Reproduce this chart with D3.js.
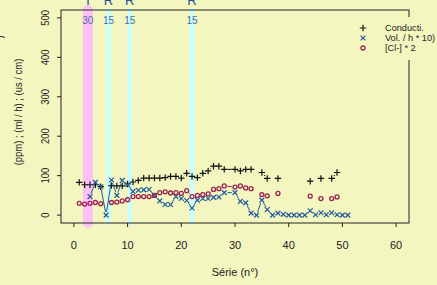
<!DOCTYPE html>
<html>
<head>
<meta charset="utf-8">
<script src="https://cdn.jsdelivr.net/npm/d3@7"></script>
<style>
  html, body { margin: 0; padding: 0; background: #f4f6c0; }
  svg { display: block; font-family: "Liberation Sans", Arial, sans-serif; }
</style>
</head>
<body>
<div id="chart"></div>
<script>
// série numbers (29 is absent from the record)
const serie = [1, 2, 3, 4, 5, 6, 7, 8, 9, 10, 11, 12, 13, 14, 15, 16, 17, 18, 19, 20,
  21, 22, 23, 24, 25, 26, 27, 28, 30, 31, 32, 33, 34, 35, 36, 37, 38, 39, 40, 41,
  42, 43, 44, 45, 46, 47, 48, 49, 50, 51];

const conduct = [83, 77, 77, 77, 72, null, 75, 74, 74, 79, 84, 88, 94, 94, 94, 94, 95, 98, 98, 94,
  106, 98, 95, 106, 112, 124, 124, 116, 116, 112, 116, 116, null, 108, 93, null, 93, null, null, null,
  null, null, 86, null, 93, null, 93, 108, null, null];

const volume = [null, null, 47, 83, 72, 0, 89, 50, 88, 77, 60, 63, 64, 65, 50, 36, 27, 27, 47, 42,
  37, 18, 38, 42, 42, 45, 46, 57, 57, 35, 31, 5, 0, 38, 14, 0, 5, 2, 0, 0,
  0, 0, 11, 1, 6, 1, 6, 1, 0, 0];

const chlorure = [30, 28, 30, 32, 29, null, 32, 33, 36, 39, 47, 47, 47, 47, 50, 57, 59, 56, 57, 55,
  62, 47, 50, 52, 54, 65, 67, 74, 71, 74, 69, 67, null, 52, 49, null, 55, null, null, null,
  null, null, 48, null, 42, null, 42, 46, null, null];

// event markers drawn as vertical bands
const events = [
  { x: 2.6,  code: 'T', dose: '30', kind: 'T' },
  { x: 6.45, code: 'R', dose: '15', kind: 'R' },
  { x: 10.4, code: 'R', dose: '15', kind: 'R' },
  { x: 22.0, code: 'R', dose: '15', kind: 'R' },
];

const xTicks = [0, 10, 20, 30, 40, 50, 60];
const yTicks = [0, 100, 200, 300, 400, 500];
const legendLabels = ['Conducti.', 'Vol. / h * 10)', '[Cl-] * 2'];

const W = 437, H = 285;
const BG = '#f4f6c0';
const INK = '#222';
const BLUE = '#1f5a9a';
const RED = '#9c1f50';
const SQUEEZE = 0.86; // vertical text comes out shorter than horizontal text

const svg = d3.select('#chart').append('svg').attr('width', W).attr('height', H);
svg.append('rect').attr('width', W).attr('height', H).attr('fill', BG);

const x = d3.scaleLinear().domain([-2.4, 62.4]).range([61, 409]);
const y = d3.scaleLinear().domain([-20, 520]).range([223, 10]);

// bands
const bandStyle = { T: { color: '#ffc0f6', width: 10 }, R: { color: '#c8ffff', width: 4.5 } };
svg.selectAll('.band')
  .data(events)
  .join('line').attr('class', 'band')
  .attr('x1', d => x(d.x)).attr('x2', d => x(d.x))
  .attr('y1', y(520)).attr('y2', y(-20))
  .attr('stroke', d => bandStyle[d.kind].color)
  .attr('stroke-width', d => bandStyle[d.kind].width)
  .attr('stroke-linecap', 'round');

svg.selectAll('.dose')
  .data(events)
  .join('text').attr('class', 'dose')
  .attr('x', d => x(d.x)).attr('y', 24)
  .attr('text-anchor', 'middle')
  .attr('font-size', '10px').attr('fill', '#4a6aac')
  .text(d => d.dose);

svg.selectAll('.code')
  .data(events)
  .join('text').attr('class', 'code')
  .attr('x', d => x(d.x)).attr('y', 5)
  .attr('text-anchor', 'middle')
  .attr('font-size', '13px').attr('fill', '#1f4e96')
  .text(d => d.code);

// frame
svg.append('rect')
  .attr('x', x(-2.4)).attr('y', y(520))
  .attr('width', x(62.4) - x(-2.4)).attr('height', y(-20) - y(520))
  .attr('fill', 'none').attr('stroke', INK).attr('stroke-width', 1);

// axes
const xAxis = svg.append('g').attr('transform', `translate(0,${y(-20)})`);
xAxis.selectAll('line').data(xTicks).join('line')
  .attr('x1', d => x(d)).attr('x2', d => x(d)).attr('y1', 0).attr('y2', 4)
  .attr('stroke', INK);
xAxis.selectAll('text').data(xTicks).join('text')
  .attr('x', d => x(d)).attr('y', 26)
  .attr('text-anchor', 'middle').attr('font-size', '11px').attr('fill', INK)
  .text(d => d);

const yAxis = svg.append('g').attr('transform', `translate(${x(-2.4)},0)`);
yAxis.selectAll('line').data(yTicks).join('line')
  .attr('x1', -4).attr('x2', 0).attr('y1', d => y(d)).attr('y2', d => y(d))
  .attr('stroke', INK);
yAxis.selectAll('text').data(yTicks).join('text')
  .attr('transform', d => `translate(-16,${y(d)}) rotate(-90) scale(${SQUEEZE},1)`)
  .attr('text-anchor', 'middle').attr('dominant-baseline', 'central')
  .attr('font-size', '11px').attr('fill', INK)
  .text(d => d);

svg.append('text')
  .attr('x', (x(-2.4) + x(62.4)) / 2).attr('y', 276)
  .attr('text-anchor', 'middle').attr('font-size', '11px').attr('fill', INK)
  .text('Série (n°)');

svg.append('text')
  .attr('transform', `translate(18,112) rotate(-90) scale(${SQUEEZE},1)`)
  .attr('text-anchor', 'middle').attr('dominant-baseline', 'central')
  .attr('font-size', '11px').attr('fill', INK)
  .text('(ppm) ; (ml / h) ; (us / cm)');

// cut-off first line of the y label
svg.append('text')
  .attr('transform', `translate(-1,37) rotate(-90) scale(${SQUEEZE},1)`)
  .attr('text-anchor', 'middle').attr('dominant-baseline', 'central')
  .attr('font-size', '11px').attr('fill', INK)
  .text(')');

// series, drawn "both" style: points with broken connecting lines
const GAP = 3.2;
function drawSeries(values, color, symbol) {
  const pts = serie.map((s, i) => ({ s, v: values[i] }));
  const g = svg.append('g');
  for (let i = 1; i < pts.length; i++) {
    const a = pts[i - 1], b = pts[i];
    if (a.v === null || b.v === null) continue;
    const x1 = x(a.s), y1 = y(a.v), x2 = x(b.s), y2 = y(b.v);
    const len = Math.hypot(x2 - x1, y2 - y1);
    if (len <= 2 * GAP) continue;
    const ux = (x2 - x1) / len, uy = (y2 - y1) / len;
    g.append('line')
      .attr('x1', x1 + ux * GAP).attr('y1', y1 + uy * GAP)
      .attr('x2', x2 - ux * GAP).attr('y2', y2 - uy * GAP)
      .attr('stroke', color).attr('stroke-width', 1);
  }
  pts.filter(d => d.v !== null).forEach(d => {
    drawSymbol(g, x(d.s), y(d.v), color, symbol);
  });
}

function drawSymbol(g, cx, cy, color, symbol) {
  if (symbol === 'plus') {
    g.append('path')
      .attr('d', `M${cx - 3.2},${cy}H${cx + 3.2}M${cx},${cy - 3.2}V${cy + 3.2}`)
      .attr('stroke', color).attr('stroke-width', 1.2);
  } else if (symbol === 'cross') {
    g.append('path')
      .attr('d', `M${cx - 2.4},${cy - 2.4}L${cx + 2.4},${cy + 2.4}M${cx - 2.4},${cy + 2.4}L${cx + 2.4},${cy - 2.4}`)
      .attr('stroke', color).attr('stroke-width', 1.2);
  } else {
    g.append('circle')
      .attr('cx', cx).attr('cy', cy).attr('r', 2)
      .attr('fill', 'none').attr('stroke', color).attr('stroke-width', 1.3);
  }
}

drawSeries(conduct, '#111', 'plus');
drawSeries(volume, BLUE, 'cross');
drawSeries(chlorure, RED, 'circle');

// legend (opaque box over the frame)
const legend = svg.append('g');
legend.append('rect')
  .attr('x', 352).attr('y', 17).attr('width', 90).attr('height', 43)
  .attr('fill', BG);
const legendColors = ['#111', BLUE, RED];
const legendSymbols = ['plus', 'cross', 'circle'];
legendLabels.forEach((label, i) => {
  const ly = 28 + i * 10;
  drawSymbol(legend, 363, ly, legendColors[i], legendSymbols[i]);
  legend.append('text')
    .attr('x', 385).attr('y', ly)
    .attr('dominant-baseline', 'central')
    .attr('font-size', '9.2px').attr('fill', INK)
    .text(label);
});
</script>
</body>
</html>
